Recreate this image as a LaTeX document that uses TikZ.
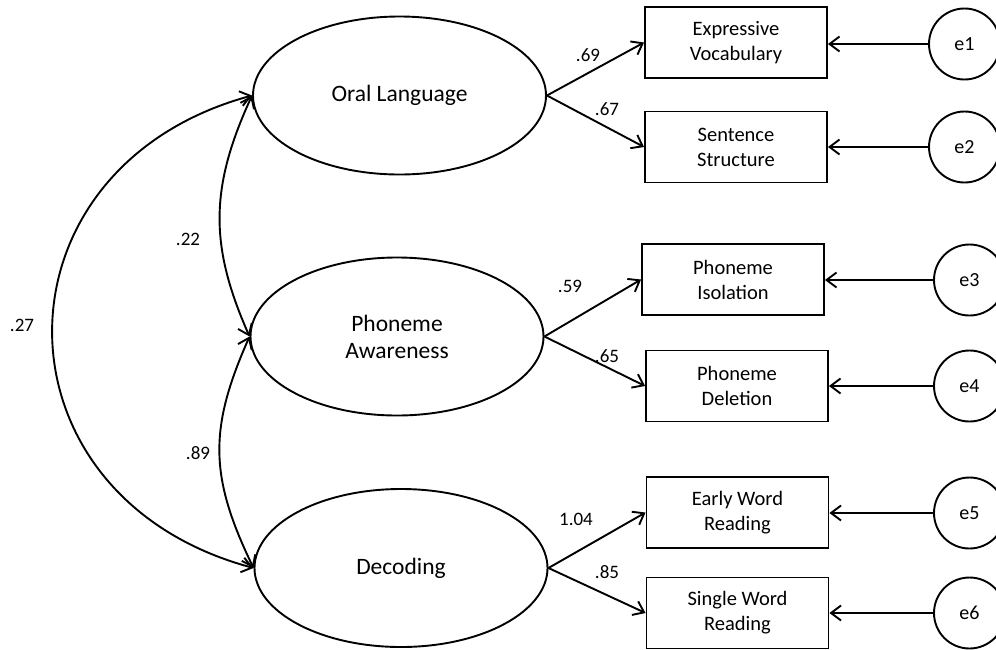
\documentclass[tikz,border=0pt]{standalone}
\usepackage{fontspec}
\setmainfont{Carlito}
\usetikzlibrary{shapes.geometric,arrows.meta}
\begin{document}
\begin{tikzpicture}[x=1pt,y=-1pt,
  line width=1.9pt,
  latent/.style={draw,ellipse,inner sep=0pt,minimum width=293pt,minimum height=158pt,
    align=center,font=\fontsize{23.5}{27}\selectfont},
  observed/.style={draw,rectangle,inner sep=0pt,minimum width=182pt,minimum height=71pt,
    align=center,font=\fontsize{20.5}{25}\selectfont},
  errterm/.style={draw,circle,inner sep=0pt,minimum size=71pt,font=\fontsize{20}{24}\selectfont},
  coef/.style={inner sep=0pt,font=\fontsize{19}{22}\selectfont},
  path/.style={-{Straight Barb[length=10pt,width=15pt]}},
  cov/.style={{Straight Barb[length=10pt,width=15pt]}-{Straight Barb[length=10pt,width=15pt]}}]
\useasboundingbox (0,0) rectangle (996,649);

% latent factors
\node[latent] (OL) at (399.5,95.5) {Oral Language};
\node[latent] (PA) at (397,336.5) {Phoneme\\Awareness};
\node[latent] (DC) at (401,568) {Decoding};

% indicators
\node[observed] (EV) at (736,42.5) {Expressive\\Vocabulary};
\node[observed] (SS) at (736,147) {Sentence\\Structure};
\node[observed] (PI) at (733,279.5) {Phoneme\\Isolation};
\node[observed] (PD) at (737,386) {Phoneme\\Deletion};
\node[observed] (EW) at (737.5,512.5) {Early Word\\Reading};
\node[observed] (SW) at (737.5,613) {Single Word\\Reading};

% error terms
\node[errterm] (e1) at (964.5,44) {e1};
\node[errterm] (e2) at (964.5,147) {e2};
\node[errterm] (e3) at (969.5,280) {e3};
\node[errterm] (e4) at (969.5,386) {e4};
\node[errterm] (e5) at (969.5,513) {e5};
\node[errterm] (e6) at (969.5,613) {e6};

% loadings
\draw[path] (OL.east) -- (EV.west);
\draw[path] (OL.east) -- (SS.west);
\draw[path] (PA.east) -- (PI.west);
\draw[path] (PA.east) -- (PD.west);
\draw[path] (DC.east) -- (EW.west);
\draw[path] (DC.east) -- (SW.west);

% residuals
\foreach \e/\b in {e1/EV,e2/SS,e3/PI,e4/PD,e5/EW,e6/SW}
  \draw[path] (\e.west) -- (\e.west -| \b.east);

% factor covariances
\draw[cov] (OL.west) .. controls (209.5,188) and (209.5,246) .. (PA.west);
\draw[cov] (PA.west) .. controls (209,428) and (209,476) .. (DC.west);
\draw[cov] (OL.west) .. controls (-14,168) and (-14,496) .. (DC.west);

% coefficients
\node[coef] (c69) at (588,55.5) {.69};
\node[coef] (c67) at (607,109) {.67};
\node[coef] (c59) at (570,286) {.59};
\node[coef] (c65) at (607,356) {.65};
\node[coef] (c104) at (576,519) {1.04};
\node[coef] (c85) at (607,572) {.85};
\node[coef] (c22) at (188,239) {.22};
\node[coef] (c27) at (22,325.5) {.27};
\node[coef] (c89) at (198,453) {.89};
\end{tikzpicture}
\end{document}
